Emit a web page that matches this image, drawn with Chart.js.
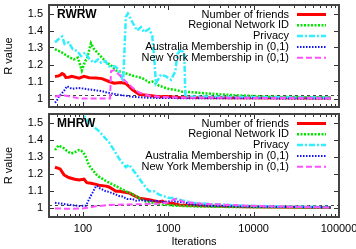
<!DOCTYPE html>
<html>
<head>
<meta charset="utf-8">
<script src="https://cdn.jsdelivr.net/npm/chart.js@4"></script>
<style>
  body { margin: 0; background: #fff; }
  #wrap { position: relative; width: 356px; height: 249px; }
  canvas { position: absolute; left: 0; }
  #top { top: 0; }
  #bottom { top: 111px; }
</style>
</head>
<body>
<div id="wrap">
  <canvas id="top" width="356" height="111"></canvas>
  <canvas id="bottom" width="356" height="138"></canvas>
</div>
<script>
// [iterations, R value]
const rwrwFriends = [[47,1.13],[52,1.133],[55,1.14],[57,1.147],[60,1.14],[63,1.124],[68,1.125],[74,1.13],[90,1.12],[103,1.13],[118,1.122],[142,1.12],[167,1.117],[202,1.10],[231,1.09],[280,1.094],[318,1.088],[329,1.082],[378,1.053],[455,1.024],[597,1.018],[782,1.01],[947,1.012],[1350,1.006],[5000,1.004],[80000,1.003]];
const rwrwRegional = [[47,1.29],[57,1.27],[68,1.245],[78,1.23],[87,1.24],[97,1.165],[106,1.22],[111,1.23],[124,1.325],[135,1.29],[154,1.26],[186,1.215],[219,1.19],[244,1.165],[288,1.155],[378,1.135],[495,1.12],[597,1.095],[648,1.10],[782,1.075],[897,1.065],[1028,1.055],[1240,1.05],[1460,1.04],[1910,1.037],[2800,1.03],[5660,1.02],[15400,1.01],[34700,1.008],[80000,1.006]];
const rwrwPrivacy = [[47,1.33],[52,1.35],[57,1.365],[61,1.32],[68,1.33],[76,1.29],[85,1.28],[95,1.25],[106,1.27],[118,1.235],[135,1.21],[150,1.23],[163,1.21],[182,1.22],[202,1.19],[231,1.19],[251,1.18],[265,1.16],[296,1.10],[318,1.48],[336,1.50],[378,1.45],[431,1.40],[477,1.42],[521,1.39],[597,1.41],[648,1.37],[683,1.24],[716,1.09],[820,1.14],[940,1.13],[1076,1.11],[1209,1.16],[1276,1.26],[1410,1.29],[1540,1.26],[1585,1.01],[2500,1.012],[6000,1.009],[20000,1.007],[80000,1.005]];
const rwrwAustralia = [[47,0.975],[49,0.985],[52,1.01],[60,1.045],[65,1.072],[74,1.057],[90,1.062],[118,1.053],[126,1.052],[167,1.043],[186,1.037],[244,1.024],[265,1.022],[378,1.01],[597,1.004],[1350,1.002],[80000,1.0]];
const rwrwNewYork = [[47,1.012],[57,1.018],[63,1.016],[74,1.01],[90,1.0],[118,1.0],[208,1.0],[213,1.16],[231,1.167],[265,1.14],[318,1.10],[378,1.065],[455,1.035],[597,1.016],[782,1.01],[1350,1.005],[80000,1.002]];

const mhrwFriends = [[47,1.24],[54,1.23],[60,1.195],[68,1.18],[80,1.17],[90,1.165],[103,1.17],[111,1.15],[124,1.147],[142,1.14],[154,1.135],[186,1.13],[202,1.125],[244,1.10],[265,1.10],[347,1.09],[378,1.08],[455,1.06],[597,1.05],[782,1.038],[850,1.043],[947,1.03],[1110,1.03],[1350,1.02],[2500,1.015],[8000,1.01],[80000,1.006]];
const mhrwRegional = [[47,1.34],[52,1.367],[55,1.36],[60,1.35],[63,1.34],[68,1.328],[73,1.32],[82,1.33],[90,1.34],[95,1.337],[100,1.327],[106,1.31],[118,1.25],[142,1.20],[154,1.185],[186,1.16],[202,1.15],[244,1.13],[318,1.10],[378,1.085],[455,1.06],[547,1.04],[782,1.025],[1110,1.017],[2000,1.012],[6000,1.008],[80000,1.005]];
const mhrwPrivacy = [[90,1.575],[98,1.55],[118,1.50],[154,1.45],[202,1.385],[231,1.34],[265,1.29],[318,1.24],[347,1.255],[420,1.20],[495,1.15],[550,1.12],[597,1.10],[683,1.10],[782,1.08],[1028,1.06],[1178,1.06],[1350,1.05],[1910,1.033],[3030,1.025],[8980,1.015],[80000,1.008]];
const mhrwAustralia = [[47,1.033],[63,1.024],[90,1.014],[108,1.016],[112,1.03],[123,1.072],[129,1.09],[142,1.13],[147,1.13],[154,1.12],[161,1.115],[185,1.10],[202,1.096],[219,1.09],[244,1.08],[265,1.072],[288,1.07],[329,1.055],[378,1.055],[420,1.045],[495,1.048],[550,1.045],[782,1.043],[850,1.037],[1110,1.043],[1615,1.033],[1770,1.024],[3000,1.015],[10000,1.01],[80000,1.006]];
const mhrwNewYork = [[47,1.0],[68,0.998],[97,1.0],[118,1.005],[141,1.012],[202,1.02],[417,1.024],[782,1.028],[1028,1.035],[1178,1.055],[1350,1.05],[1460,1.04],[2310,1.028],[8980,1.015],[80000,1.005]];

const seriesNames = ['Number of friends', 'Regional Network ID', 'Privacy', 'Australia Membership in (0,1)', 'New York Membership in (0,1)'];
const xTicks = [100, 1000, 10000, 100000];
const yTicks = [1, 1.1, 1.2, 1.3, 1.4, 1.5];
const threshold = 1.02;

const FONT = '"Liberation Sans", Arial, sans-serif';
const styles = [
  { color: '#ff0000', width: 3, dash: [] },
  { color: '#00e600', width: 2.5, dash: [2, 1.5] },
  { color: '#30f0ff', width: 2.5, dash: [6, 2, 2, 2] },
  { color: '#1010ff', width: 2, dash: [1.5, 1.5] },
  { color: '#ff50ff', width: 2, dash: [6, 3] }
];

function makeDatasets(list) {
  return list.map((pts, i) => ({
    label: seriesNames[i],
    data: pts.map(p => ({ x: p[0], y: p[1] })),
    borderColor: styles[i].color,
    borderWidth: styles[i].width,
    borderDash: styles[i].dash,
    pointRadius: 0,
    tension: 0,
    fill: false,
    order: 5 - i
  }));
}

const framePlugin = {
  id: 'frame',
  beforeDatasetsDraw(chart) {
    const { ctx, chartArea: a, scales: { y } } = chart;
    const ty = Math.round(y.getPixelForValue(threshold)) + 0.5;
    ctx.save();
    ctx.strokeStyle = '#444';
    ctx.lineWidth = 1;
    ctx.setLineDash([3, 3]);
    ctx.beginPath();
    ctx.moveTo(a.left, ty);
    ctx.lineTo(a.right, ty);
    ctx.stroke();
    ctx.restore();
  },
  afterDatasetsDraw(chart, args, opts) {
    const { ctx, chartArea: a, scales: { x, y } } = chart;
    ctx.save();
    ctx.strokeStyle = '#333';
    ctx.lineWidth = 1;
    ctx.beginPath();
    yTicks.forEach(v => {
      const py = Math.round(y.getPixelForValue(v)) + 0.5;
      ctx.moveTo(a.left, py); ctx.lineTo(a.left + 5, py);
      ctx.moveTo(a.right, py); ctx.lineTo(a.right - 5, py);
    });
    for (let d = 10; d <= 100000; d *= 10) {
      for (let m = 1; m <= 9; m++) {
        const v = d * m;
        if (v < x.min || v > x.max) continue;
        const len = m === 1 ? 5 : 3;
        const px = Math.round(x.getPixelForValue(v)) + 0.5;
        ctx.moveTo(px, a.bottom); ctx.lineTo(px, a.bottom - len);
        ctx.moveTo(px, a.top); ctx.lineTo(px, a.top + len);
      }
    }
    ctx.stroke();
    ctx.lineWidth = 2;
    ctx.strokeStyle = '#444';
    ctx.strokeRect(a.left, a.top, a.right - a.left, a.bottom - a.top);

    // panel title
    ctx.fillStyle = '#000';
    ctx.font = 'bold 12px ' + FONT;
    ctx.textAlign = 'left';
    ctx.textBaseline = 'alphabetic';
    ctx.fillText(opts.title, a.left + 8, a.top + 13);

    // legend
    ctx.font = '11px ' + FONT;
    ctx.textAlign = 'right';
    ctx.textBaseline = 'middle';
    chart.data.datasets.forEach((ds, i) => {
      const ly = a.top + 9.5 + i * 10.8;
      ctx.fillStyle = '#000';
      ctx.fillText(ds.label, a.right - 50, ly);
      ctx.strokeStyle = ds.borderColor;
      ctx.lineWidth = ds.borderWidth;
      ctx.setLineDash(ds.borderDash);
      ctx.beginPath();
      ctx.moveTo(a.right - 42, ly);
      ctx.lineTo(a.right - 13, ly);
      ctx.stroke();
      ctx.setLineDash([]);
    });
    ctx.restore();
  }
};

function makeChart(id, title, list, showX) {
  return new Chart(document.getElementById(id), {
    type: 'line',
    data: { datasets: makeDatasets(list) },
    plugins: [framePlugin],
    options: {
      responsive: false,
      animation: false,
      devicePixelRatio: 1,
      layout: { padding: showX ? { top: 3, right: 17, bottom: 0, left: 0 } : { top: 5, right: 17, bottom: 4, left: 0 } },
      plugins: {
        legend: { display: false },
        tooltip: { enabled: false },
        frame: { title: title }
      },
      scales: {
        x: {
          type: 'logarithmic',
          min: 40,
          max: 100000,
          display: showX,
          afterBuildTicks: s => { s.ticks = xTicks.map(v => ({ value: v })); },
          afterFit: s => {
            if (showX) s.height = 32;
            s.paddingLeft = 0; s.paddingRight = 0;
          },
          grid: { display: false, drawTicks: false },
          border: { display: false },
          ticks: { color: '#000', font: { family: FONT, size: 11 }, padding: 5, maxRotation: 0, autoSkip: false, callback: v => String(v) },
          title: { display: true, text: 'Iterations', color: '#000', font: { family: FONT, size: 11 }, padding: { top: 0, bottom: 0 } }
        },
        y: {
          min: 0.95,
          max: 1.55,
          afterBuildTicks: s => { s.ticks = yTicks.map(v => ({ value: v })); },
          afterFit: s => { s.width = 49; s.paddingTop = 0; s.paddingBottom = 0; },
          grid: { display: false, drawTicks: false },
          border: { display: false },
          ticks: { color: '#000', font: { family: FONT, size: 11 }, padding: 6, callback: v => String(+v.toFixed(1)) },
          title: { display: true, text: 'R value', color: '#000', font: { family: FONT, size: 11 }, padding: { top: 2, bottom: 0 } }
        }
      }
    }
  });
}

makeChart('top', 'RWRW', [rwrwFriends, rwrwRegional, rwrwPrivacy, rwrwAustralia, rwrwNewYork], false);
makeChart('bottom', 'MHRW', [mhrwFriends, mhrwRegional, mhrwPrivacy, mhrwAustralia, mhrwNewYork], true);
</script>
</body>
</html>
